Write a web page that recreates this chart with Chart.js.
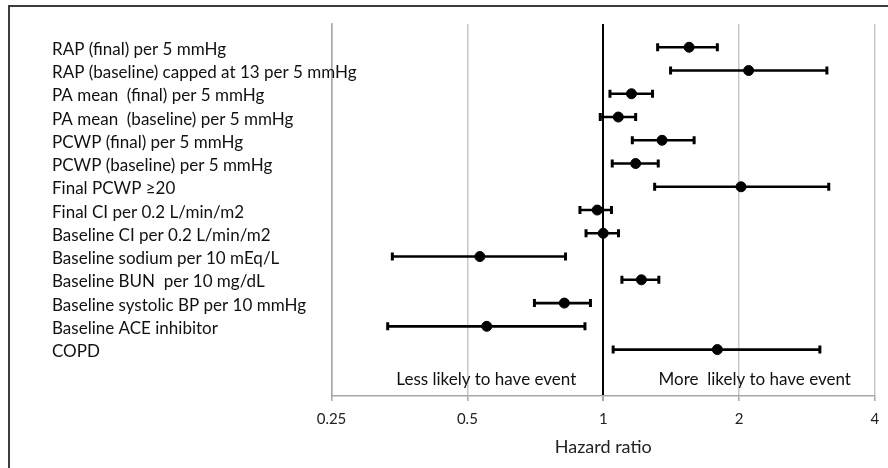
<!DOCTYPE html>
<html>
<head>
<meta charset="utf-8">
<script src="https://cdn.jsdelivr.net/npm/chart.js@4.4.1/dist/chart.umd.min.js"></script>
<style>
    html, body { margin: 0; padding: 0; background: #fff; overflow: hidden; }
    #frame { position: absolute; left: 8px; top: 5px; width: 880px; height: 463px;
             border-left: 2px solid #3c3c3c; border-top: 2px solid #3c3c3c; }
    #wrap { position: absolute; left: 0; top: 0; width: 888px; height: 468px; }
</style>
</head>
<body>
<div id="frame"></div>
<div id="wrap"><canvas id="chart"></canvas></div>
<script>
// Rows, top to bottom
const categories = [
    'RAP (final) per 5 mmHg',
    'RAP (baseline) capped at 13 per 5 mmHg',
    'PA mean  (final) per 5 mmHg',
    'PA mean  (baseline) per 5 mmHg',
    'PCWP (final) per 5 mmHg',
    'PCWP (baseline) per 5 mmHg',
    'Final PCWP \u226520',
    'Final CI per 0.2 L/min/m2',
    'Baseline CI per 0.2 L/min/m2',
    'Baseline sodium per 10 mEq/L',
    'Baseline BUN  per 10 mg/dL',
    'Baseline systolic BP per 10 mmHg',
    'Baseline ACE inhibitor',
    'COPD'
];
const hazardRatios = [1.55, 2.10, 1.155, 1.08, 1.35, 1.18, 2.02, 0.97, 1.00, 0.533, 1.215, 0.82, 0.552, 1.79];
const lowerCI      = [1.32, 1.41, 1.035, 0.985, 1.16, 1.047, 1.30, 0.888, 0.916, 0.341, 1.10, 0.704, 0.333, 1.052];
const upperCI      = [1.79, 3.13, 1.286, 1.18, 1.59, 1.324, 3.16, 1.043, 1.081, 0.825, 1.328, 0.937, 0.911, 3.02];
const xTicks = [0.25, 0.5, 1, 2, 4];

const FONT = 'Lato, "Noto Sans", sans-serif';
const rowY = (i) => categories.length + 1 - i;   // row 0 sits at y = 15

const errorBars = {
    id: 'errorBars',
    beforeDatasetsDraw(chart) {
        const { ctx, scales: { x, y } } = chart;
        ctx.save();
        ctx.strokeStyle = '#000';
        categories.forEach((c, i) => {
            const py = y.getPixelForValue(rowY(i));
            const x0 = x.getPixelForValue(lowerCI[i]);
            const x1 = x.getPixelForValue(upperCI[i]);
            ctx.lineWidth = 2.6;
            ctx.beginPath();
            ctx.moveTo(x0, py);
            ctx.lineTo(x1, py);
            ctx.stroke();
            ctx.lineWidth = 3;
            ctx.beginPath();
            ctx.moveTo(x0, py - 4);
            ctx.lineTo(x0, py + 4);
            ctx.moveTo(x1, py - 4);
            ctx.lineTo(x1, py + 4);
            ctx.stroke();
        });
        ctx.restore();
    }
};

// category names (left, may run into the plot) and the two captions
const labels = {
    id: 'labels',
    afterDraw(chart) {
        const { ctx, scales: { x, y } } = chart;
        ctx.save();
        ctx.font = '17px ' + FONT;
        ctx.fillStyle = '#111';
        ctx.textBaseline = 'middle';
        ctx.textAlign = 'left';
        categories.forEach((c, i) => {
            ctx.fillText(c, y.left, y.getPixelForValue(rowY(i)) + 2);
        });
        const py = y.getPixelForValue(0.7);
        ctx.textAlign = 'right';
        ctx.fillText('Less likely to have event', x.getPixelForValue(1) - 27, py);
        ctx.fillText('More  likely to have event', x.getPixelForValue(4) - 24, py);
        ctx.restore();
    }
};

new Chart(document.getElementById('chart'), {
    type: 'scatter',
    data: {
        datasets: [{
            data: hazardRatios.map((v, i) => ({ x: v, y: rowY(i) })),
            pointRadius: 5,
            pointHoverRadius: 5,
            backgroundColor: '#000',
            borderColor: '#000'
        }]
    },
    options: {
        responsive: true,
        maintainAspectRatio: false,
        animation: false,
        layout: { padding: { left: 52, right: 12, top: 24, bottom: 9.9 } },
        plugins: {
            legend: { display: false },
            tooltip: { enabled: false }
        },
        scales: {
            x: {
                type: 'logarithmic',
                min: 0.25,
                max: 4,
                afterBuildTicks: (s) => { s.ticks = xTicks.map(v => ({ value: v })); },
                grid: {
                    color: (c) => (c.tick && c.tick.value === 1 ? '#000' : '#c8c8c8'),
                    lineWidth: (c) => (c.tick && c.tick.value === 1 ? 2 : 1.5),
                    tickColor: '#a6a6a6',
                    tickLength: 5
                },
                border: { color: '#a6a6a6', width: 1.5 },
                ticks: {
                    callback: (v) => String(v),
                    font: { family: FONT, size: 15 },
                    color: '#222',
                    padding: 8.7,
                    maxRotation: 0
                },
                title: {
                    display: true,
                    text: 'Hazard ratio',
                    font: { family: FONT, size: 18 },
                    color: '#222',
                    padding: { top: 0, bottom: 0 }
                }
            },
            y: {
                min: 0,
                max: 16,
                afterFit: (s) => { s.width = 279.5; },
                grid: { display: false, drawTicks: false },
                border: { color: '#a6a6a6', width: 1.5 },
                ticks: { display: false, stepSize: 1 }
            }
        }
    },
    plugins: [errorBars, labels]
});
</script>
</body>
</html>
